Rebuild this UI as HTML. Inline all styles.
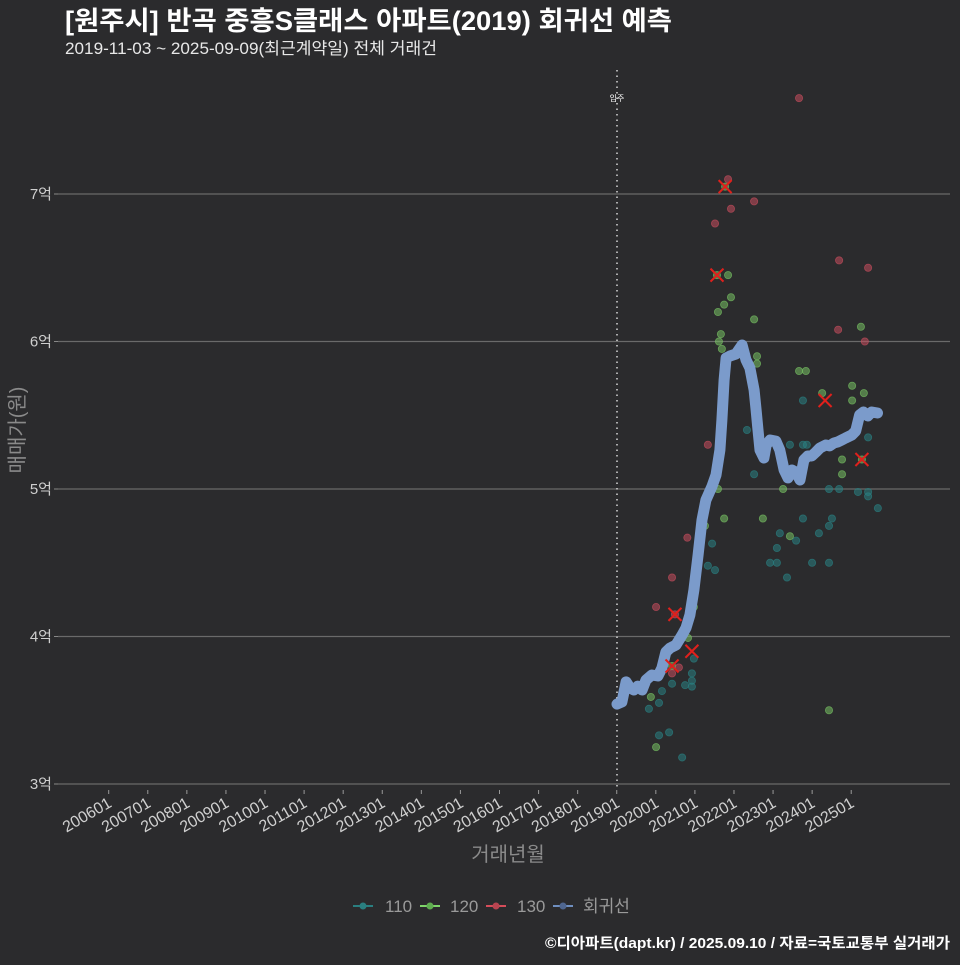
<!DOCTYPE html>
<html><head><meta charset="utf-8">
<style>
html,body{margin:0;padding:0;background:#2b2b2d;}
body{width:960px;height:960px;overflow:hidden;font-family:"Liberation Sans","Noto Sans CJK KR",sans-serif;}
svg text{font-family:"Liberation Sans","Noto Sans CJK KR",sans-serif;}
</style></head>
<body>
<svg id="chart" width="960" height="960" xmlns="http://www.w3.org/2000/svg">
<rect width="960" height="960" fill="#2b2b2d"/>
<text x="65" y="30" fill="#ffffff" font-size="26.5" font-weight="bold" textLength="607" lengthAdjust="spacingAndGlyphs">[원주시] 반곡 중흥S클래스 아파트(2019) 회귀선 예측</text>
<text x="65" y="54" fill="#e8e8e8" font-size="16.5" textLength="372" lengthAdjust="spacingAndGlyphs">2019-11-03 ~ 2025-09-09(최근계약일) 전체 거래건</text>
<g id="grid"></g>
<g id="marks"></g>
<text transform="translate(24,430) rotate(-90)" text-anchor="middle" fill="#8a8a8a" font-size="20">매매가(원)</text>
<text x="508" y="861" text-anchor="middle" fill="#8a8a8a" font-size="20">거래년월</text>
<g font-size="17" fill="#9a9a9a">
 <g><line x1="353" y1="906" x2="373" y2="906" stroke="#2a7f80" stroke-width="2"/><circle cx="363" cy="906" r="3.5" fill="#2a7f80"/><text x="385" y="912">110</text></g>
 <g><line x1="420" y1="906" x2="440" y2="906" stroke="#7ed46a" stroke-width="2"/><circle cx="430" cy="906" r="3.5" fill="#5fae50"/><text x="450" y="912">120</text></g>
 <g><line x1="486" y1="906" x2="506" y2="906" stroke="#d64d5a" stroke-width="2"/><circle cx="496" cy="906" r="3.5" fill="#b84450"/><text x="517" y="912">130</text></g>
 <g><line x1="553" y1="906" x2="573" y2="906" stroke="#6f8fc0" stroke-width="2"/><circle cx="563" cy="906" r="3.5" fill="#4f6690"/><text x="583" y="912">회귀선</text></g>
</g>
<text x="950" y="948" text-anchor="end" fill="#ffffff" font-size="15" font-weight="bold" textLength="405" lengthAdjust="spacingAndGlyphs">©디아파트(dapt.kr) / 2025.09.10 / 자료=국토교통부 실거래가</text>
</svg>
<script>
// months since 2019-01 and values in 억
const lineMonths=[0,1.5,2.8,4.0,5.2,6.4,7.7,8.9,10.7,12.6,13.8,15.0,16.3,18.1,20.0,21.2,22.4,23.6,24.9,26.1,27.3,29.2,30.4,31.6,32.2,32.9,33.5,34.7,36.5,38.4,39.6,40.8,42.1,42.7,43.3,43.9,45.1,45.8,47.0,48.8,50.0,51.3,52.5,53.7,54.9,56.2,57.4,58.6,59.8,61.1,62.3,64.1,65.3,66.6,67.8,69.0,70.2,72.1,73.3,74.5,75.7,77.0,78.2,80.0];
const lineValues=[3.542,3.556,3.692,3.651,3.637,3.664,3.637,3.705,3.739,3.732,3.786,3.895,3.922,3.942,4.010,4.058,4.146,4.315,4.553,4.790,4.925,5.020,5.095,5.264,5.468,5.739,5.888,5.902,5.915,5.976,5.875,5.820,5.671,5.536,5.400,5.264,5.210,5.298,5.332,5.325,5.264,5.129,5.075,5.129,5.115,5.061,5.197,5.224,5.224,5.251,5.278,5.298,5.292,5.312,5.319,5.332,5.346,5.366,5.393,5.502,5.522,5.495,5.522,5.515];
const m110=[39.9,57.1,77.1,53.1,57.1,58.3,42.1,65.1,68.2,74.0,77.1,77.1,80.1,57.1,66.0,65.1,62.0,50.0,55.0,49.1,29.2,27.9,30.1,47.0,49.1,59.9,65.1,52.2,23.6,23.0,23.0,16.9,20.9,23.0,13.8,12.9,9.8,12.9,16.0,20.0];
const v110=[5.40,5.60,5.35,5.30,5.30,5.30,5.10,5.00,5.00,4.98,4.95,4.98,4.87,4.80,4.80,4.75,4.70,4.70,4.65,4.60,4.63,4.48,4.45,4.50,4.50,4.50,4.50,4.40,3.85,3.75,3.70,3.68,3.67,3.66,3.63,3.55,3.51,3.33,3.35,3.18];
const m120=[33.2,34.1,30.7,35.0,32.9,31.0,42.1,31.9,31.3,32.2,43.0,43.0,55.9,58.0,63.0,72.2,75.8,72.2,74.9,69.1,69.1,75.2,51.0,44.8,32.9,53.1,31.0,27.0,23.6,22.1,21.8,10.4,12.0,65.1,16.9];
const v120=[7.05,6.45,6.45,6.30,6.25,6.20,6.15,6.05,6.00,5.95,5.90,5.85,5.80,5.80,5.65,5.70,5.65,5.60,6.10,5.20,5.10,5.20,5.00,4.80,4.80,4.68,5.00,4.75,4.20,4.10,3.99,3.59,3.25,3.50,3.80];
const m130=[55.9,34.1,35.0,30.1,42.1,68.2,77.1,76.1,67.9,27.9,16.9,12.0,17.8,19.0,16.9,21.6];
const v130=[7.65,7.10,6.90,6.80,6.95,6.55,6.50,6.00,6.08,5.30,4.40,4.20,4.15,3.79,3.75,4.67];
const xMarkMonths=[33.2,30.7,17.8,23.0,16.9,63.9,75.2];
const xMarkValues=[7.05,6.45,4.15,3.90,3.80,5.60,5.20];
const yTicks=[3,4,5,6,7];
const xTickYears=[2006,2007,2008,2009,2010,2011,2012,2013,2014,2015,2016,2017,2018,2019,2020,2021,2022,2023,2024,2025];
const moveInMonth=0;

const NS="http://www.w3.org/2000/svg";
function X(m){return 617+m*(39.08/12);}
function XY(yr){return 108.7+(yr-2006)*39.08;}
function Y(v){return 784-(v-3)*147.5;}
function mk(tag,attrs,parent){const e=document.createElementNS(NS,tag);for(const k in attrs)e.setAttribute(k,attrs[k]);parent.appendChild(e);return e;}
const grid=document.getElementById('grid'), marks=document.getElementById('marks');

yTicks.forEach(v=>{
  const l=mk('line',{x1:58,x2:950,y1:Y(v),y2:Y(v),stroke:'#6a6a6a','stroke-width':1.2},grid);
  
  
  mk('line',{x1:54,x2:58,y1:Y(v),y2:Y(v),stroke:'#888','stroke-width':1},grid);
  const t=mk('text',{x:52,y:Y(v)+5,'text-anchor':'end',fill:'#cfcfcf','font-size':15},grid);
  t.textContent=v+'억';
  
  
});
xTickYears.forEach(yr=>{
  const x=XY(yr);
  mk('line',{x1:x,x2:x,y1:790,y2:794,stroke:'#999','stroke-width':1},grid);
  const t=mk('text',{x:0,y:0,'text-anchor':'end',fill:'#d0d0d0','font-size':16,transform:`translate(${x+4},${806}) rotate(-30)`},grid);
  t.textContent=yr+'01';
  
  
});
const vl=mk('line',{x1:X(moveInMonth),x2:X(moveInMonth),y1:70,y2:790,stroke:'#d8d8d8','stroke-width':1.5,'stroke-dasharray':'1.5,4'},grid);


const vt=mk('text',{x:X(moveInMonth),y:101,'text-anchor':'middle',fill:'#fff','font-size':8},grid);
vt.textContent='입주';



function pts(ms,vs,color,name){
  ms.forEach((m,i)=>{
    const c=mk('circle',{cx:X(m),cy:Y(vs[i]),r:3.6,fill:color,'fill-opacity':0.55,stroke:color,'stroke-opacity':0.7,'stroke-width':0.8},marks);
    
    
  });
}
pts(m110,v110,'#2a8082','point-110');
pts(m120,v120,'#76c062','point-120');
pts(m130,v130,'#c44d5c','point-130');

let d='';
lineMonths.forEach((m,i)=>{d+=(i?'L':'M')+X(m).toFixed(1)+','+Y(lineValues[i]).toFixed(1);});
const rl=mk('path',{d:d,fill:'none',stroke:'#7b9bcb','stroke-width':11,'stroke-linejoin':'round','stroke-linecap':'round'},marks);



xMarkMonths.forEach((m,i)=>{
  const x=X(m),y=Y(xMarkValues[i]),s=6.5;
  const g=mk('g',{},marks);
  
  
  mk('line',{x1:x-s,y1:y-s,x2:x+s,y2:y+s,stroke:'#e0201c','stroke-width':2},g);
  mk('line',{x1:x-s,y1:y+s,x2:x+s,y2:y-s,stroke:'#e0201c','stroke-width':2},g);
});
</script>
</body></html>
